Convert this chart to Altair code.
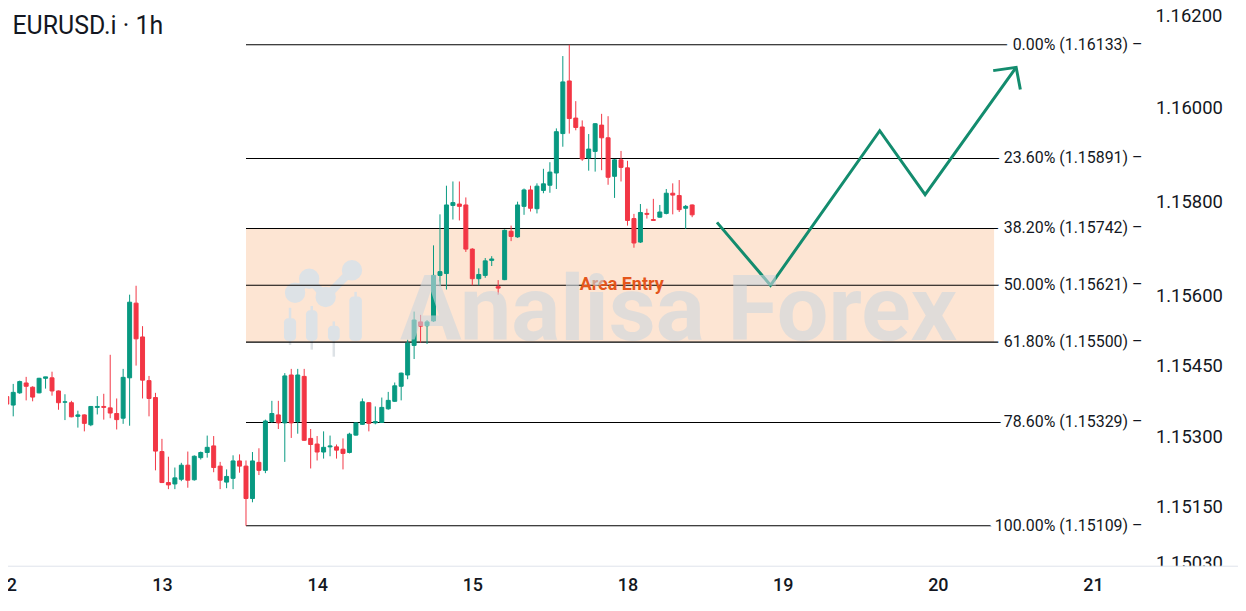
import altair as alt
import pandas as pd

# ---------------- data ----------------
day_labels = ["12", "13", "14", "15", "18", "19", "20", "21"]
day_start_idx = [0, 24, 48, 72, 96, 120, 144, 168]

opens = [
    1.15384, 1.15366, 1.15392, 1.15413, 1.15404, 1.15392, 1.15423, 1.15424, 1.15396, 1.15372,
    1.15371, 1.15342, 1.15345, 1.15324, 1.15361, 1.15363, 1.15360, 1.15348, 1.15338, 1.15424,
    1.15583, 1.15511, 1.15418, 1.15382, 1.15267, 1.15201, 1.15198, 1.15208, 1.15238, 1.15207,
    1.15254, 1.15265, 1.15279, 1.15236, 1.15202, 1.15210, 1.15247, 1.15236, 1.15167, 1.15244,
    1.15227, 1.15331, 1.15345, 1.15328, 1.15430, 1.15331, 1.15427, 1.15295, 1.15283, 1.15266,
    1.15277, 1.15277, 1.15272, 1.15265, 1.15302, 1.15325, 1.15371, 1.15328, 1.15329, 1.15358,
    1.15374, 1.15406, 1.15430, 1.15493, 1.15543, 1.15535, 1.15545, 1.15642, 1.15646, 1.15791,
    1.15794, 1.15792, 1.15698, 1.15635, 1.15642, 1.15674, 1.15618, 1.15633, 1.15736, 1.15724,
    1.15789, 1.15824, 1.15784, 1.15823, 1.15834, 1.15860, 1.15944, 1.16056, 1.15977, 1.15958,
    1.15892, 1.15906, 1.15962, 1.15935, 1.15853, 1.15888, 1.15871, 1.15763, 1.15713, 1.15774,
    1.15761, 1.15766, 1.15774, 1.15817, 1.15812, 1.15785, 1.15792]
highs = [
    1.15392, 1.15411, 1.15418, 1.15426, 1.15406, 1.15424, 1.15426, 1.15437, 1.15397, 1.15389,
    1.15375, 1.15354, 1.15346, 1.15364, 1.15385, 1.15390, 1.15473, 1.15380, 1.15443, 1.15601,
    1.15620, 1.15534, 1.15428, 1.15392, 1.15294, 1.15256, 1.15233, 1.15243, 1.15267, 1.15259,
    1.15267, 1.15301, 1.15300, 1.15245, 1.15229, 1.15259, 1.15261, 1.15248, 1.15266, 1.15274,
    1.15335, 1.15375, 1.15375, 1.15434, 1.15443, 1.15443, 1.15443, 1.15315, 1.15300, 1.15310,
    1.15301, 1.15282, 1.15295, 1.15307, 1.15329, 1.15380, 1.15372, 1.15363, 1.15382, 1.15394,
    1.15414, 1.15435, 1.15505, 1.15565, 1.15558, 1.15547, 1.15706, 1.15772, 1.15833, 1.15842,
    1.15842, 1.15808, 1.15700, 1.15657, 1.15679, 1.15683, 1.15632, 1.15740, 1.15748, 1.15799,
    1.15827, 1.15833, 1.15838, 1.15869, 1.15883, 1.15955, 1.16109, 1.16133, 1.16013, 1.15972,
    1.15943, 1.15966, 1.15986, 1.15981, 1.15890, 1.15907, 1.15886, 1.15773, 1.15794, 1.15784,
    1.15805, 1.15792, 1.15826, 1.15838, 1.15845, 1.15792, 1.15793]
lows = [
    1.15332, 1.15342, 1.15390, 1.15376, 1.15374, 1.15391, 1.15401, 1.15386, 1.15356, 1.15334,
    1.15340, 1.15318, 1.15310, 1.15321, 1.15346, 1.15335, 1.15338, 1.15314, 1.15326, 1.15322,
    1.15450, 1.15380, 1.15342, 1.15227, 1.15200, 1.15187, 1.15187, 1.15204, 1.15190, 1.15205,
    1.15250, 1.15254, 1.15223, 1.15187, 1.15189, 1.15187, 1.15222, 1.15109, 1.15159, 1.15217,
    1.15221, 1.15328, 1.15315, 1.15245, 1.15296, 1.15305, 1.15290, 1.15231, 1.15248, 1.15252,
    1.15257, 1.15252, 1.15229, 1.15263, 1.15301, 1.15324, 1.15310, 1.15325, 1.15328, 1.15356,
    1.15373, 1.15376, 1.15421, 1.15464, 1.15499, 1.15496, 1.15543, 1.15619, 1.15612, 1.15761,
    1.15759, 1.15692, 1.15621, 1.15621, 1.15637, 1.15662, 1.15601, 1.15632, 1.15715, 1.15722,
    1.15771, 1.15778, 1.15774, 1.15817, 1.15818, 1.15826, 1.15916, 1.15944, 1.15951, 1.15886,
    1.15865, 1.15863, 1.15866, 1.15835, 1.15807, 1.15842, 1.15748, 1.15701, 1.15711, 1.15763,
    1.15758, 1.15765, 1.15772, 1.15772, 1.15777, 1.15741, 1.15766]
closes = [
    1.15368, 1.15393, 1.15416, 1.15406, 1.15383, 1.15423, 1.15426, 1.15396, 1.15371, 1.15373,
    1.15341, 1.15345, 1.15327, 1.15363, 1.15363, 1.15361, 1.15349, 1.15335, 1.15425, 1.15585,
    1.15507, 1.15419, 1.15380, 1.15268, 1.15201, 1.15196, 1.15211, 1.15238, 1.15206, 1.15257,
    1.15265, 1.15276, 1.15233, 1.15206, 1.15214, 1.15247, 1.15236, 1.15167, 1.15247, 1.15227,
    1.15332, 1.15348, 1.15328, 1.15428, 1.15328, 1.15430, 1.15291, 1.15282, 1.15266, 1.15276,
    1.15279, 1.15270, 1.15263, 1.15304, 1.15328, 1.15373, 1.15327, 1.15331, 1.15361, 1.15376,
    1.15407, 1.15434, 1.15498, 1.15547, 1.15534, 1.15543, 1.15642, 1.15650, 1.15792, 1.15797,
    1.15789, 1.15698, 1.15635, 1.15644, 1.15673, 1.15677, 1.15615, 1.15738, 1.15725, 1.15792,
    1.15824, 1.15785, 1.15832, 1.15837, 1.15862, 1.15948, 1.16054, 1.15976, 1.15957, 1.15890,
    1.15911, 1.15965, 1.15935, 1.15851, 1.15888, 1.15872, 1.15759, 1.15711, 1.15776, 1.15772,
    1.15759, 1.15777, 1.15817, 1.15813, 1.15782, 1.15789, 1.15771]

fib_levels = ["0.00%", "23.60%", "38.20%", "50.00%", "61.80%", "78.60%", "100.00%"]
fib_prices = [1.16133, 1.15891, 1.15742, 1.15621, 1.15500, 1.15329, 1.15109]
fib_anchor_idx = 37
entry_top = 1.15742
entry_bottom = 1.15500
entry_end_idx = 152.7
entry_label = "Area Entry"
entry_label_idx = 95.1
entry_label_price = 1.15621

y_ticks = [1.162, 1.160, 1.158, 1.156, 1.1545, 1.153, 1.1515, 1.1503]

zz_idx = [109.84, 118.12, 135.01, 142.03, 156.11]
zz_price = [1.15755, 1.15621, 1.15950, 1.15814, 1.16085]
head_idx = [152.56, 156.11, 156.76]
head_price = [1.16078, 1.16085, 1.16038]

wm_text = "Analisa Forex"
wm_idx = 103.9
wm_price = 1.15505
logo_bar_i0 = [42.87, 46.27, 49.67, 52.98]
logo_bar_i1 = [44.75, 48.06, 51.50, 54.92]
logo_bar_top = [1.15551, 1.15568, 1.15535, 1.15597]
logo_bar_bot = [1.15503, 1.15503, 1.15503, 1.15503]
logo_wick_i = [43.81, 47.17, 50.58, 53.95]
logo_wick_top = [1.15573, 1.15577, 1.15544, 1.15607]
logo_wick_bot = [1.15494, 1.15484, 1.15469, 1.15503]
logo_dot_i = [44.59, 46.77, 49.32, 53.39]
logo_dot_p = [1.15605, 1.15635, 1.15596, 1.15653]

title_text = "EURUSD.i · 1h"

# ---------------- styling ----------------
GREEN = "#089981"
RED = "#F23645"
INK = "#131722"
ZZ = "#138c6e"
W, H = 1141, 551
FONT = "Roboto"
Y_TOP = 1.161913

xs = alt.Scale(domain=[0.961, 175.03], nice=False, zero=False)
ys = alt.Scale(domain=[1.150239, Y_TOP], nice=False, zero=False)

label_arr = "[" + ",".join("'%s'" % d for d in day_labels) + "]"
xax = alt.Axis(values=day_start_idx, labelExpr=label_arr + "[round(datum.value/24)]",
               title=None, grid=False, ticks=False, domain=False, labelPadding=11,
               labelFontSize=18, labelFontWeight=500, labelColor=INK, labelFont=FONT,
               labelFlush=False, labelOverlap=False)
in_ticks = [t for t in y_ticks if t <= Y_TOP]
out_ticks = [t for t in y_ticks if t > Y_TOP]
yax = alt.Axis(orient="right", values=in_ticks, format=".5f", title=None, grid=False,
               ticks=False, domain=False, labelPadding=12, labelFontSize=18.5,
               labelColor=INK, labelFont=FONT, labelOverlap=False, labelFlush=False)


def X(f):
    return alt.X(f, type="quantitative", scale=xs, axis=xax)


def Y(f):
    return alt.Y(f, type="quantitative", scale=ys, axis=yax)


cscale = alt.Scale(domain=["up", "down"], range=[GREEN, RED])

candles = pd.DataFrame({"i": list(range(len(opens))), "o": opens, "h": highs,
                        "l": lows, "c": closes})
candles["dir"] = ["up" if c >= o else "down" for o, c in zip(opens, closes)]

band_df = pd.DataFrame({"x0": [fib_anchor_idx], "x1": [entry_end_idx],
                        "y0": [entry_top], "y1": [entry_bottom]})
fib_df = pd.DataFrame({"x0": [fib_anchor_idx] * len(fib_prices), "p": fib_prices,
                       "label": ["%s (%.5f) \u2013" % (l, p) for l, p in zip(fib_levels, fib_prices)]})
zz_df = pd.DataFrame({"i": zz_idx, "p": zz_price, "k": list(range(len(zz_idx)))})
head_df = pd.DataFrame({"i": head_idx, "p": head_price, "k": list(range(len(head_idx)))})
logo_bars = pd.DataFrame({"a": logo_bar_i0, "b": logo_bar_i1, "t": logo_bar_top, "u": logo_bar_bot})
logo_wicks = pd.DataFrame({"i": logo_wick_i, "t": logo_wick_top, "u": logo_wick_bot})
logo_dots = pd.DataFrame({"i": logo_dot_i, "p": logo_dot_p, "k": list(range(len(logo_dot_i)))})
one = pd.DataFrame({"k": [0]})
entry_df = pd.DataFrame({"i": [entry_label_idx], "p": [entry_label_price], "t": [entry_label]})
wm_df = pd.DataFrame({"i": [wm_idx], "p": [wm_price], "t": [wm_text]})
out_tick_df = pd.DataFrame({"p": out_ticks, "t": ["%.5f" % t for t in out_ticks]})
first_day_df = pd.DataFrame({"i": [day_start_idx[0]], "t": [day_labels[0]]})

LOGO = "#dde2e6"

band = alt.Chart(band_df).mark_rect(color="#fde5d3").encode(
    x=X("x0"), x2="x1", y=Y("y0"), y2="y1")

logo_w = alt.Chart(logo_wicks).mark_rule(color=LOGO, strokeWidth=2.5).encode(
    x=X("i"), y=Y("t"), y2="u")
logo_b = alt.Chart(logo_bars).mark_rect(color=LOGO, cornerRadius=4).encode(
    x=X("a"), x2="b", y=Y("t"), y2="u")
logo_l = alt.Chart(logo_dots).mark_line(color=LOGO, strokeWidth=8).encode(
    x=X("i"), y=Y("p"), order="k:Q")
logo_d = alt.Chart(logo_dots).mark_point(filled=True, color=LOGO, size=420, opacity=1).encode(
    x=X("i"), y=Y("p"))

fib_lines = alt.Chart(fib_df).mark_rule(color="#000000", strokeWidth=1.1).encode(
    x=X("x0"), x2=alt.value(W), y=Y("p"))

wicks = alt.Chart(candles).mark_rule(strokeWidth=1, clip=True).encode(
    x=X("i"), y=Y("l"), y2="h",
    color=alt.Color("dir:N", scale=cscale, legend=None))
bodies = alt.Chart(candles).mark_bar(size=4, strokeWidth=1, clip=True).encode(
    x=X("i"), y=Y("o"), y2="c",
    color=alt.Color("dir:N", scale=cscale, legend=None),
    stroke=alt.Stroke("dir:N", scale=cscale, legend=None))

zigzag = alt.Chart(zz_df).mark_line(color=ZZ, strokeWidth=3, strokeJoin="miter").encode(
    x=X("i"), y=Y("p"), order="k:Q")
head = alt.Chart(head_df).mark_line(color=ZZ, strokeWidth=3, strokeJoin="miter").encode(
    x=X("i"), y=Y("p"), order="k:Q")

halo = alt.Chart(fib_df).mark_text(align="right", baseline="middle", fontSize=16, font=FONT,
                                   fill="white", stroke="white", strokeWidth=13,
                                   strokeJoin="round").encode(
    x=alt.value(W - 1), y=Y("p"), text="label:N")
fib_text = alt.Chart(fib_df).mark_text(align="right", baseline="middle", fontSize=16,
                                       font=FONT, color=INK).encode(
    x=alt.value(W - 1), y=Y("p"), text="label:N")

entry_text = alt.Chart(entry_df).mark_text(align="center", baseline="middle", fontSize=18,
                                           fontWeight="bold", font=FONT, color="#e4561b").encode(
    x=X("i"), y=Y("p"), text="t:N")

watermark = alt.Chart(wm_df).mark_text(align="center", baseline="alphabetic", fontSize=92,
                                       fontWeight="bold", font=FONT, color="#cdd7de",
                                       opacity=0.6).encode(
    x=X("i"), y=Y("p"), text="t:N")

# price label above the plotted range (drawn like an axis label)
top_label = alt.Chart(out_tick_df).mark_text(align="left", baseline="middle", fontSize=18.5,
                                             font=FONT, color=INK, dy=3).encode(
    x=alt.value(W + 12), y=Y("p"), text="t:N")
# first (partly hidden) day label at the left edge
first_day = alt.Chart(first_day_df).mark_text(align="center", baseline="top", fontSize=18,
                                              fontWeight=500, font=FONT, color=INK).encode(
    x=X("i"), y=alt.value(H + 11), text="t:N")

title = alt.Chart(one).mark_text(align="left", baseline="alphabetic", fontSize=25,
                                 font=FONT, color=INK, text=title_text).encode(
    x=alt.value(4.5), y=alt.value(16.7))

cover = alt.Chart(one).mark_rect(color="white").encode(
    x=alt.value(W + 2), x2=alt.value(W + 95), y=alt.value(H + 0.5), y2=alt.value(H + 22))
axis_line = alt.Chart(one).mark_rule(color="#e0e3eb", strokeWidth=1).encode(
    x=alt.value(-10), x2=alt.value(W + 95), y=alt.value(H + 0.5))

chart = alt.layer(
    band, logo_w, logo_b, logo_l, logo_d, fib_lines, wicks, bodies, zigzag, head,
    halo, fib_text, entry_text, watermark, top_label, first_day, title, cover, axis_line
).properties(
    width=W, height=H,
    autosize=alt.AutoSizeParams(type="none"),
    padding={"left": 0, "top": 8, "right": 95, "bottom": 40},
    background="white",
).configure_view(stroke=None)

chart.save("out.html", embed_options={"renderer": "svg", "actions": False})
